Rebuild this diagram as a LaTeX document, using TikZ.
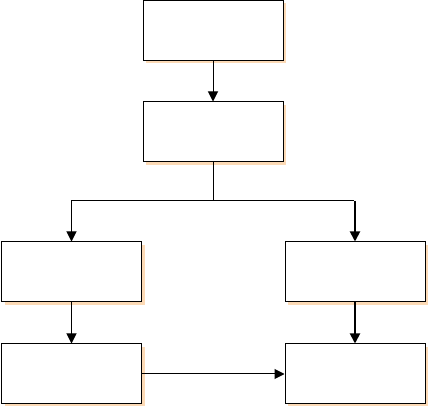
\documentclass[tikz,border=0pt]{standalone}
\usetikzlibrary{arrows.meta,shadows}
\definecolor{peach}{RGB}{252,218,182}
\begin{document}
\begin{tikzpicture}[x=1pt,y=-1pt,
  box/.style={draw=black,line width=1pt,fill=white,minimum width=140pt,minimum height=60pt,inner sep=0pt,
    drop shadow={shadow xshift=3pt,shadow yshift=-3pt,fill=peach,opacity=1}},
  conn/.style={line width=1pt,-{Triangle[length=10pt,width=10pt]}},
  thickconn/.style={line width=1.8pt,-{Triangle[length=10pt,width=10pt]}}]
\useasboundingbox (0,0) rectangle (429,406);
\node[box] (a) at (213,30.5) {};
\node[box] (b) at (213,132) {};
\node[box] (c) at (71.5,272) {};
\node[box] (d) at (355,272) {};
\node[box] (e) at (71.5,374) {};
\node[box] (f) at (355,374) {};
\coordinate (j) at (213,201);
\draw[conn] (a) -- (b);
\draw[line width=1pt] (b.south) -- (j);
\draw[conn] (j) -| (c.north);
\draw[line width=1pt] (j) -- (354,201);
\draw[thickconn] (355,201) -- (d.north);
\draw[conn] (c) -- (e);
\draw[thickconn] (d) -- (f);
\draw[conn] (e) -- (f);
\end{tikzpicture}
\end{document}
